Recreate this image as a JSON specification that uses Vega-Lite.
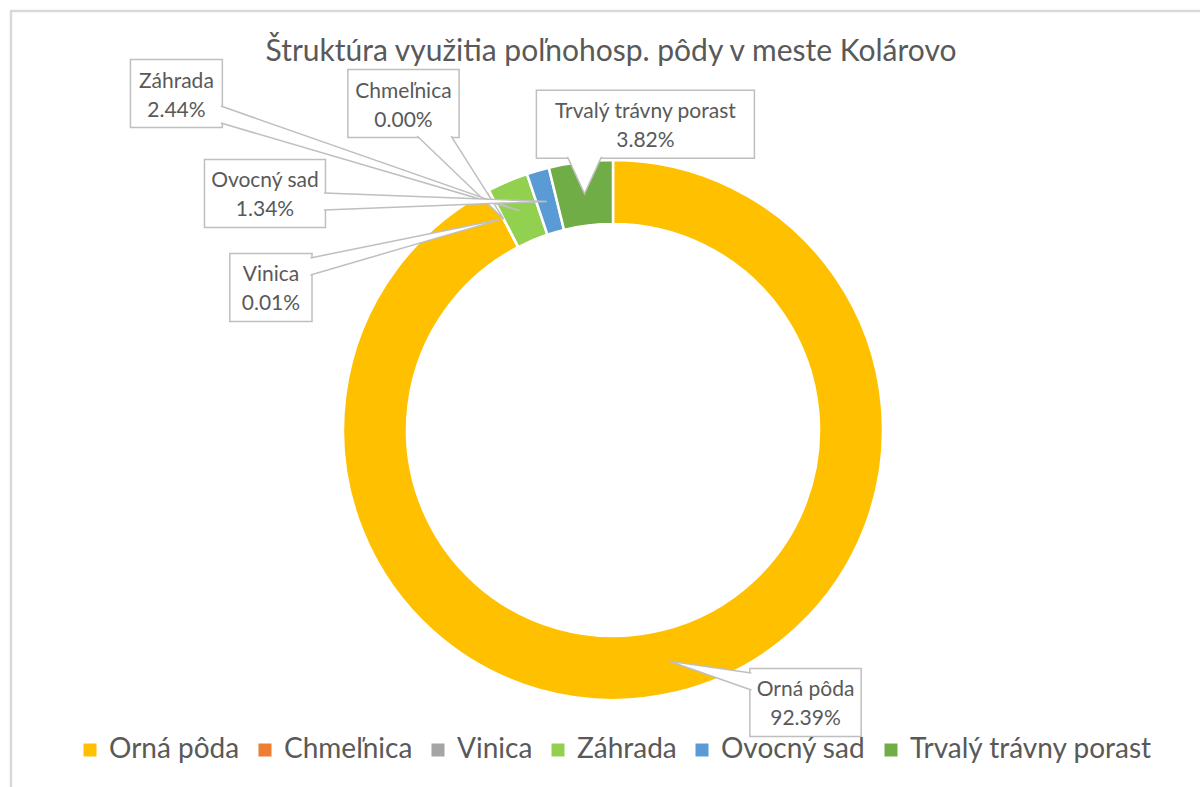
{
  "$schema": "https://vega.github.io/schema/vega-lite/v6.json",
  "width": 1200,
  "height": 800,
  "autosize": {"type": "none"},
  "padding": {"left": 11, "top": 11, "right": 0, "bottom": 0},
  "background": "white",
  "config": {
    "view": {"stroke": "#d9d9d9", "strokeWidth": 2.5},
    "font": "Lato"
  },
  "title": {
    "text": "Štruktúra využitia poľnohosp. pôdy v meste Kolárovo",
    "font": "Lato",
    "fontSize": 30,
    "fontWeight": "normal",
    "color": "#595959",
    "anchor": "middle",
    "frame": "group",
    "baseline": "alphabetic",
    "offset": -80
  },
  "datasets": {
    "pody": [
      {"kategoria": "Orná pôda", "podiel": 92.39, "poradie": 1, "lx": 0.713, "ly": -1.009},
      {"kategoria": "Chmeľnica", "podiel": 0.0, "poradie": 2, "lx": -0.776, "ly": 1.209},
      {"kategoria": "Vinica", "podiel": 0.01, "poradie": 3, "lx": -1.267, "ly": 0.528},
      {"kategoria": "Záhrada", "podiel": 2.44, "poradie": 4, "lx": -1.617, "ly": 1.246},
      {"kategoria": "Ovocný sad", "podiel": 1.34, "poradie": 5, "lx": -1.289, "ly": 0.876},
      {"kategoria": "Trvalý trávny porast", "podiel": 3.82, "poradie": 6, "lx": 0.120, "ly": 1.132}
    ]
  },
  "data": {"name": "pody"},
  "transform": [
    {"joinaggregate": [{"op": "sum", "field": "podiel", "as": "total"}]},
    {"window": [{"op": "sum", "field": "podiel", "as": "cum"}], "sort": [{"field": "poradie"}], "frame": [null, 0]},
    {"calculate": "(datum.cum - datum.podiel / 2) / datum.total * 2 * PI", "as": "ang"},
    {"calculate": "0.8815 * sin(datum.ang)", "as": "tx"},
    {"calculate": "0.8815 * cos(datum.ang)", "as": "ty"},
    {"calculate": "format(datum.podiel, '.2f') + '%'", "as": "pct"},
    {"calculate": "[datum.kategoria, datum.pct]", "as": "label"},
    {"calculate": "(max(length(datum.kategoria), length(datum.pct)) * 9.7 + 24) / 540", "as": "hw"},
    {"calculate": "34 / 270", "as": "hh"},
    {"calculate": "datum.lx - datum.hw", "as": "bx1"},
    {"calculate": "datum.lx + datum.hw", "as": "bx2"},
    {"calculate": "datum.ly - datum.hh", "as": "by1"},
    {"calculate": "datum.ly + datum.hh", "as": "by2"},
    {"calculate": "abs(datum.tx - datum.lx) / datum.hw > abs(datum.ty - datum.ly) / datum.hh", "as": "vert"},
    {"calculate": "datum.vert ? datum.lx + (datum.tx > datum.lx ? 1 : -1) * (datum.hw - 1.5 / 270) : clamp(datum.tx, datum.lx - datum.hw + 25 / 270, datum.lx + datum.hw - 25 / 270) - 17 / 270", "as": "b1x"},
    {"calculate": "datum.vert ? datum.b1x : datum.b1x + 34 / 270", "as": "b2x"},
    {"calculate": "datum.vert ? clamp(datum.ty, datum.ly - datum.hh + 13 / 270, datum.ly + datum.hh - 13 / 270) - 8.5 / 270 : datum.ly + (datum.ty > datum.ly ? 1 : -1) * (datum.hh - 1.5 / 270)", "as": "b1y"},
    {"calculate": "datum.vert ? datum.b1y + 17 / 270 : datum.b1y", "as": "b2y"}
  ],
  "layer": [
    {
      "mark": {"type": "arc", "outerRadius": 270, "innerRadius": 206, "stroke": "white", "strokeWidth": 2.5},
      "encoding": {
        "x": {"datum": 0, "type": "quantitative", "axis": null, "scale": {"domain": [-2.22963, 2.21481], "nice": false, "zero": false}},
        "y": {"datum": 0, "type": "quantitative", "axis": null, "scale": {"domain": [-1.41111, 1.55185], "nice": false, "zero": false}},
        "theta": {"field": "podiel", "type": "quantitative", "stack": true},
        "order": {"field": "poradie", "type": "quantitative"},
        "color": {
          "field": "kategoria",
          "type": "nominal",
          "scale": {
            "domain": ["Orná pôda", "Chmeľnica", "Vinica", "Záhrada", "Ovocný sad", "Trvalý trávny porast"],
            "range": ["#FFC000", "#ED7D31", "#A5A5A5", "#92D050", "#5B9BD5", "#70AD47"]
          },
          "legend": {
            "orient": "none",
            "legendX": 65,
            "legendY": 725,
            "direction": "horizontal",
            "columns": 6,
            "title": null,
            "symbolType": "square",
            "symbolSize": 169,
            "symbolStrokeWidth": 0,
            "labelFont": "Lato",
            "labelFontSize": 28,
            "labelColor": "#595959",
            "labelOffset": 5,
            "columnPadding": 11,
            "labelLimit": 400
          }
        }
      }
    },
    {
      "mark": {"type": "rect", "fill": "white", "stroke": "#bfbfbf", "strokeWidth": 1.5},
      "encoding": {
        "x": {"field": "bx1", "type": "quantitative"},
        "x2": {"field": "bx2"},
        "y": {"field": "by1", "type": "quantitative"},
        "y2": {"field": "by2"}
      }
    },
    {
      "transform": [
        {"fold": ["b1x", "tx", "b2x"], "as": ["pt", "px"]},
        {"calculate": "datum.pt == 'b1x' ? datum.b1y : (datum.pt == 'tx' ? datum.ty : datum.b2y)", "as": "py"},
        {"calculate": "datum.pt == 'b1x' ? 1 : (datum.pt == 'tx' ? 2 : 3)", "as": "ord"}
      ],
      "mark": {"type": "line", "fill": "white", "stroke": "#bfbfbf", "strokeWidth": 1.5},
      "encoding": {
        "x": {"field": "px", "type": "quantitative"},
        "y": {"field": "py", "type": "quantitative"},
        "order": {"field": "ord", "type": "quantitative"},
        "detail": {"field": "kategoria", "type": "nominal"}
      }
    },
    {
      "mark": {"type": "text", "font": "Lato", "fontSize": 21, "color": "#595959", "lineHeight": 29, "align": "center", "baseline": "middle", "dy": -12},
      "encoding": {
        "x": {"field": "lx", "type": "quantitative"},
        "y": {"field": "ly", "type": "quantitative"},
        "text": {"field": "label"}
      }
    }
  ]
}
